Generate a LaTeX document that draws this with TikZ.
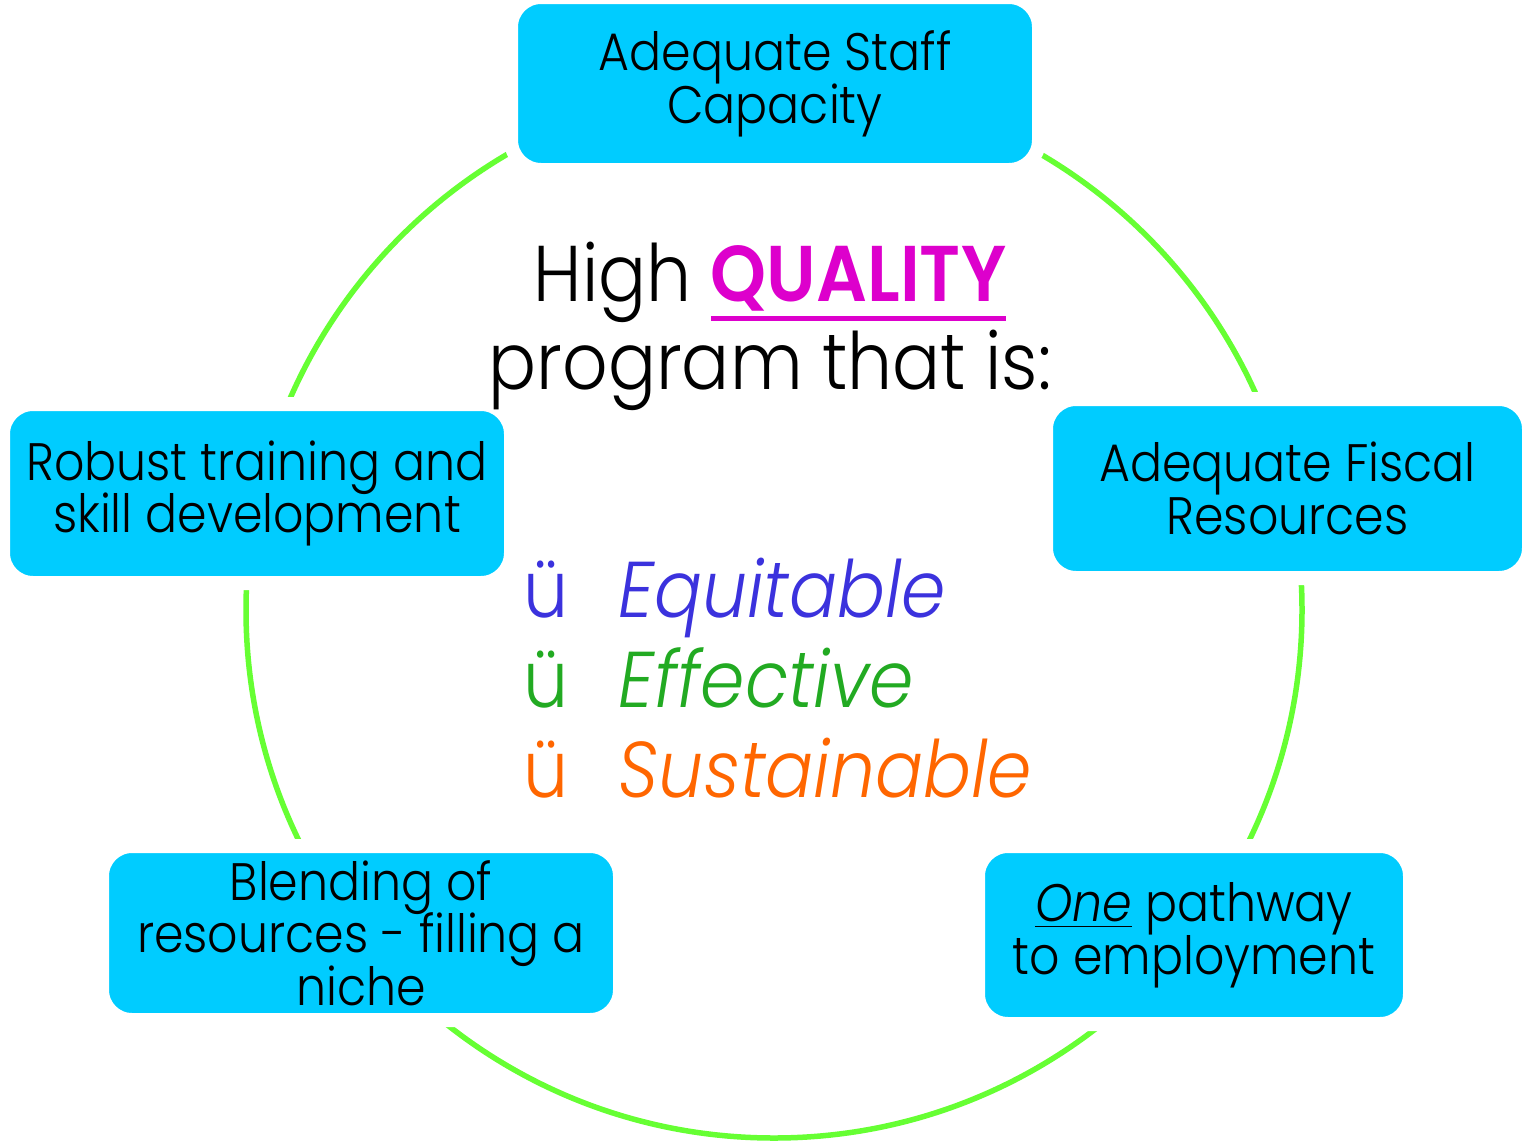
\documentclass[tikz,border=0pt]{standalone}
\usepackage{fontspec}
\setmainfont{Poppins}[UprightFont=* Light, ItalicFont=* Light Italic, BoldFont=* SemiBold, FakeStretch=0.9]
\usepackage{tikz}
\usetikzlibrary{positioning}
\definecolor{boxcyan}{RGB}{0,204,255}
\definecolor{ringgreen}{RGB}{102,255,51}
\definecolor{qualmag}{RGB}{221,0,204}
\definecolor{eqblue}{RGB}{59,50,221}
\definecolor{efgreen}{RGB}{34,170,34}
\definecolor{suorange}{RGB}{255,102,0}
\newcommand{\thickul}[1]{\leavevmode\vtop{\hbox{#1}\kern1.4pt\hrule height 1.4pt}}
\newcommand{\boxfont}{\fontsize{15}{15}\selectfont\lineskiplimit=-10pt\relax}
\tikzset{
    cyclebox/.style = {rectangle, rounded corners=0.3cm, fill=boxcyan, draw=white, line width=0.14cm, align=center, inner sep=0pt, font=\boxfont},
    ring/.style = {draw=ringgreen, line width=0.055cm},
    hubtext/.style = {align=center, inner sep=0pt, font=\fontsize{22.5}{25}\selectfont},
    chk/.style = {anchor=base west, inner sep=0pt, font=\fontsize{22.5}{25}\selectfont}
}

\begin{document}
\begin{tikzpicture}
\useasboundingbox (0,0) rectangle (15.24,-11.46);
\coordinate (hub) at (7.74,-6.10);
\draw [ring] (hub) circle [radius=5.28];

\node (staff) [cyclebox, minimum width=5.28cm, minimum height=1.73cm] at (7.75,-0.835) {Adequate Staff\\Capacity};
\node (fiscal) [cyclebox, minimum width=4.83cm, minimum height=1.79cm] at (12.875,-4.885) {Adequate Fiscal\\Resources};
\node (pathway) [cyclebox, minimum width=4.32cm, minimum height=1.78cm] at (11.94,-9.35) {\underline{\textit{One}} pathway\\to employment};
\node (blend) [cyclebox, minimum width=5.18cm, minimum height=1.74cm] at (3.61,-9.33) {Blending of\\resources - filling a\\niche};
\node (train) [cyclebox, minimum width=5.08cm, minimum height=1.79cm] at (2.57,-4.935) {Robust training and\\skill development};

\node (quality) [hubtext] at (7.70,-3.26) {High \textcolor{qualmag}{\thickul{\textbf{QUALITY}}}\\program that is:};

\node (equit) [chk, text=eqblue] at (5.23,-6.17) {\makebox[0.95cm][l]{ü}\textit{Equitable}};
\node (effect) [chk, text=efgreen, below=0.9cm of equit.base west, anchor=base west] {\makebox[0.95cm][l]{ü}\textit{Effective}};
\node (sustain) [chk, text=suorange, below=0.9cm of effect.base west, anchor=base west] {\makebox[0.95cm][l]{ü}\textit{Sustainable}};
\end{tikzpicture}
\end{document}
